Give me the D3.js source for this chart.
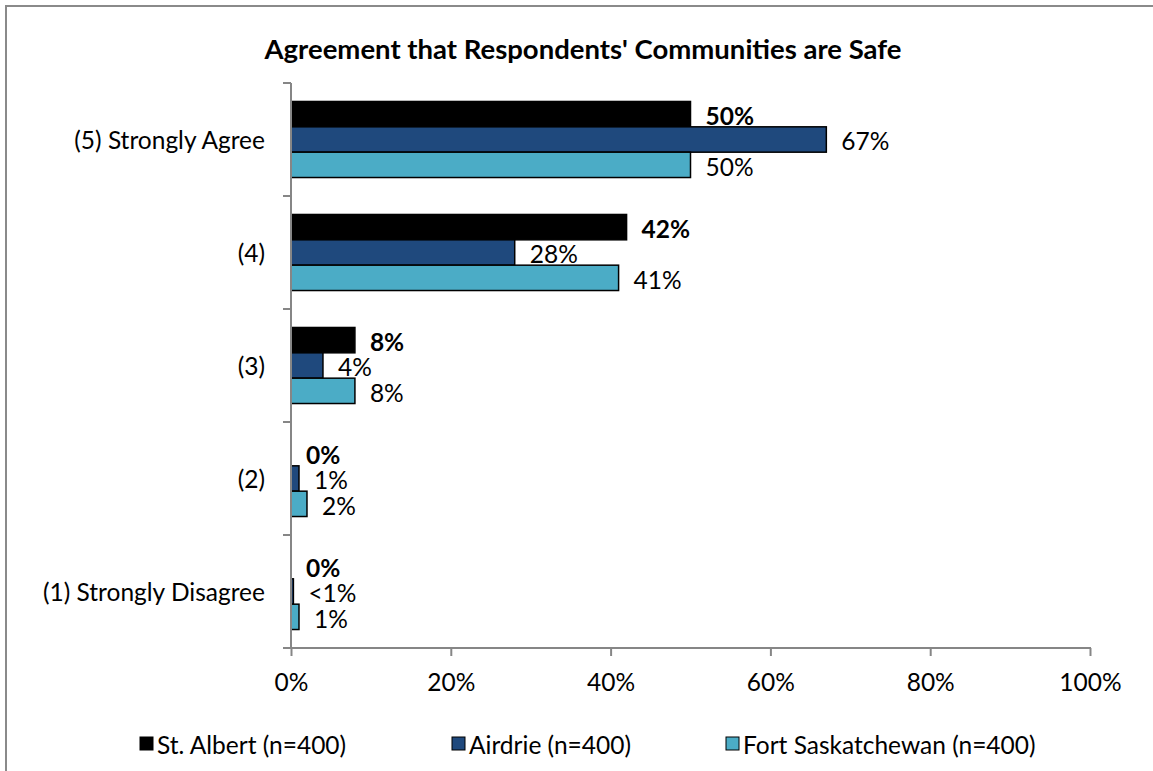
<!DOCTYPE html>
<html>
<head>
<meta charset="utf-8">
<script src="https://cdn.jsdelivr.net/npm/d3@7"></script>
<style>
  html, body { margin: 0; padding: 0; background: #fff; }
  svg { display: block; }
  text { font-family: Lato, "Open Sans", sans-serif; fill: #000; }
</style>
</head>
<body>
<svg id="chart" width="1153" height="771"></svg>
<script>
// Response categories, top to bottom
const categories = ["(5) Strongly Agree", "(4)", "(3)", "(2)", "(1) Strongly Disagree"];
// Communities surveyed
const seriesNames = ["St. Albert (n=400)", "Airdrie (n=400)", "Fort Saskatchewan (n=400)"];
// Percent of respondents per category
const stAlbert = [50, 42, 8, 0, 0];
const airdrie = [67, 28, 4, 1, 0.3];
const fortSask = [50, 41, 8, 2, 1];
// Printed value labels
const stAlbertLabels = ["50%", "42%", "8%", "0%", "0%"];
const airdrieLabels = ["67%", "28%", "4%", "1%", "<1%"];
const fortSaskLabels = ["50%", "41%", "8%", "2%", "1%"];
// Axis ticks
const xTicks = [0, 20, 40, 60, 80, 100];

const colors = ["#000000", "#1f497d", "#4bacc6"];
const seriesValues = [stAlbert, airdrie, fortSask];
const seriesLabels = [stAlbertLabels, airdrieLabels, fortSaskLabels];

const svg = d3.select("#chart");
const axisColor = "#868686";
const fontSize = 24.5;

// Outer frame
svg.append("path")
  .attr("d", "M6,771V6H1153")
  .attr("fill", "none")
  .attr("stroke", "#8a8a8a")
  .attr("stroke-width", 2);

// Title
svg.append("text")
  .attr("x", 583).attr("y", 59)
  .attr("text-anchor", "middle")
  .attr("font-weight", "bold")
  .attr("font-size", 27.5)
  .text("Agreement that Respondents' Communities are Safe");

const x = d3.scaleLinear().domain([0, 100]).range([291, 1090]);
const y = d3.scaleBand().domain(categories).range([83, 648])
  .paddingInner(0.327).paddingOuter(0.1635);
const ySub = d3.scaleBand().domain(d3.range(seriesNames.length)).range([0, y.bandwidth()]);

// Bars
const groups = svg.append("g").selectAll("g")
  .data(categories)
  .join("g")
  .attr("transform", d => `translate(0,${y(d)})`);

groups.each(function(cat, ci) {
  const g = d3.select(this);
  seriesValues.forEach((vals, si) => {
    const v = vals[ci];
    if (v > 0) {
      g.append("rect")
        .attr("x", x(0))
        .attr("y", ySub(si))
        .attr("width", x(v) - x(0))
        .attr("height", ySub.bandwidth())
        .attr("fill", colors[si])
        .attr("stroke", "#000")
        .attr("stroke-width", 1.5);
    }
    g.append("text")
      .attr("x", x(v) + 15)
      .attr("y", ySub(si) + ySub.bandwidth() / 2 + 1.5)
      .attr("dominant-baseline", "central")
      .attr("font-size", fontSize)
      .attr("font-weight", si === 0 ? "bold" : "normal")
      .text(seriesLabels[si][ci]);
  });
});

// Vertical (category) axis
const yAxis = svg.append("g");
yAxis.append("line")
  .attr("x1", x(0)).attr("x2", x(0))
  .attr("y1", y.range()[0]).attr("y2", y.range()[1])
  .attr("stroke", axisColor).attr("stroke-width", 2);
const boundaries = categories.map(c => y(c) - y.step() * y.paddingInner() / 2)
  .concat([y.range()[1]]);
yAxis.selectAll("line.tick")
  .data(boundaries)
  .join("line")
  .attr("class", "tick")
  .attr("x1", x(0) - 8).attr("x2", x(0))
  .attr("y1", d => d).attr("y2", d => d)
  .attr("stroke", axisColor).attr("stroke-width", 2);
yAxis.selectAll("text")
  .data(categories)
  .join("text")
  .attr("x", 265)
  .attr("y", d => y(d) + y.bandwidth() / 2)
  .attr("dominant-baseline", "central")
  .attr("text-anchor", "end")
  .attr("font-size", fontSize)
  .text(d => d);

// Horizontal (percent) axis
const xAxis = svg.append("g")
  .attr("transform", `translate(0,${y.range()[1]})`)
  .call(d3.axisBottom(x).tickValues(xTicks).tickSize(8).tickSizeOuter(0)
    .tickFormat(d => d + "%"));
xAxis.select(".domain").attr("stroke", axisColor).attr("stroke-width", 2)
  .attr("d", `M${x(0) - 1},0H${x(100) + 1}`);
xAxis.selectAll(".tick line").attr("stroke", axisColor).attr("stroke-width", 2);
xAxis.selectAll(".tick text")
  .attr("font-family", "Lato, 'Open Sans', sans-serif")
  .attr("font-size", fontSize)
  .attr("fill", "#000")
  .attr("dy", null)
  .attr("y", 43);

// Legend
const legendX = [140, 452, 726];
const legend = svg.append("g").selectAll("g")
  .data(seriesNames)
  .join("g")
  .attr("transform", (d, i) => `translate(${legendX[i]},744)`);
legend.append("rect")
  .attr("x", 0).attr("y", -7)
  .attr("width", 13).attr("height", 13)
  .attr("fill", (d, i) => colors[i])
  .attr("stroke", "#000").attr("stroke-width", 1);
legend.append("text")
  .attr("x", 17).attr("y", 0)
  .attr("dominant-baseline", "central")
  .attr("font-size", fontSize)
  .text(d => d);
</script>
</body>
</html>
